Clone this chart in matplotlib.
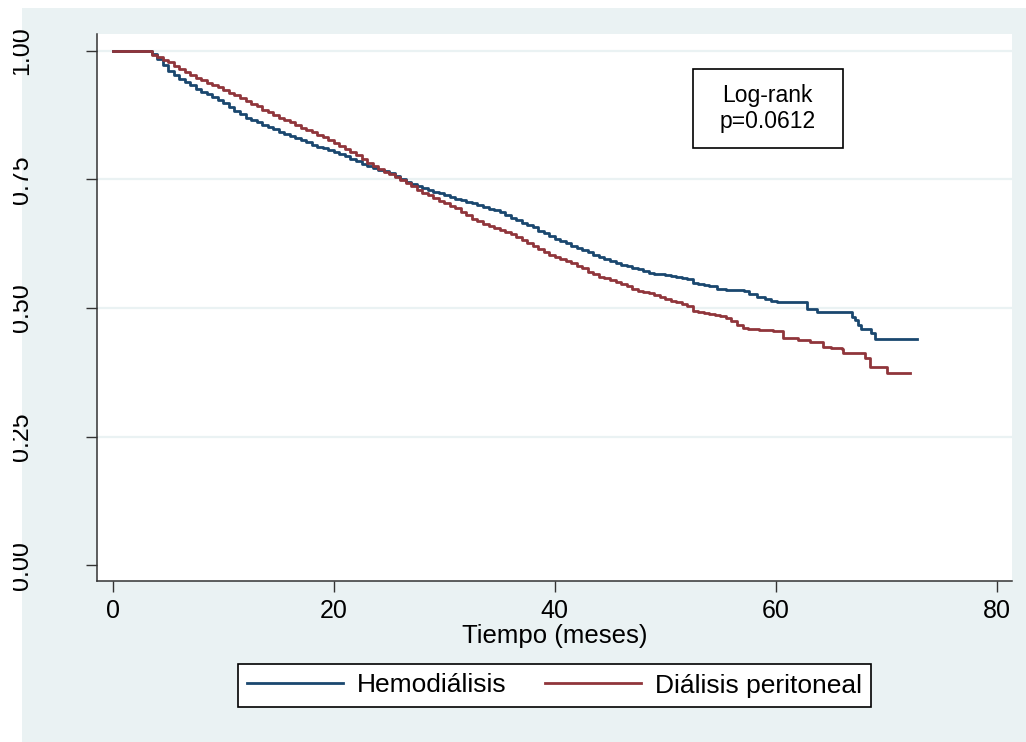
import matplotlib
matplotlib.use("Agg")
import matplotlib.pyplot as plt
from matplotlib.patches import Rectangle
from matplotlib.transforms import Bbox, TransformedBbox

# --- Datos ---
hd_time = [0,
           3.0, 3.5, 4.0, 4.5, 5.0, 5.5, 6.0, 6.5, 7.0, 7.5,
           8.0, 8.5, 9.0, 9.5, 10.0, 10.5, 11.0, 11.5, 12.0, 12.5,
           13.0, 13.5, 14.0, 14.5, 15.0, 15.5, 16.0, 16.5, 17.0, 17.5,
           18.0, 18.5, 19.0, 19.5, 20.0, 20.5, 21.0, 21.5, 22.0, 22.5,
           23.0, 23.5, 24.0, 24.5, 25.0, 25.5, 26.0, 26.5, 27.0, 27.5,
           28.0, 28.5, 29.0, 29.5, 30.0, 30.5, 31.0, 31.5, 32.0, 32.5,
           33.0, 33.5, 34.0, 34.5, 35.0, 35.5, 36.0, 36.5, 37.0, 37.5,
           38.0, 38.5, 39.0, 39.5, 40.0, 40.5, 41.0, 41.5, 42.0, 42.5,
           43.0, 43.5, 44.0, 44.5, 45.0, 45.5, 46.0, 46.5, 47.0, 47.5,
           48.0, 48.5, 49.0, 49.5, 50.0, 50.5, 51.0, 51.5, 52.0, 52.5,
           53.0, 53.5, 54.0,
           54.7, 55.5, 56.5, 57.1, 57.6, 58.3, 59.0, 59.6, 60.1, 62.8,
           63.7, 66.9, 67.2, 67.5, 67.7, 68.6, 69.0, 72.8]
hd_surv = [1.0,
           1.0, 0.995, 0.984, 0.972, 0.962, 0.953, 0.946, 0.939, 0.933, 0.926,
           0.920, 0.916, 0.911, 0.905, 0.898, 0.891, 0.884, 0.877, 0.870, 0.866,
           0.861, 0.856, 0.852, 0.848, 0.843, 0.839, 0.835, 0.831, 0.826, 0.822,
           0.818, 0.814, 0.811, 0.807, 0.803, 0.799, 0.795, 0.790, 0.785, 0.781,
           0.776, 0.773, 0.769, 0.766, 0.762, 0.756, 0.751, 0.746, 0.742, 0.737,
           0.733, 0.729, 0.725, 0.723, 0.719, 0.716, 0.713, 0.710, 0.707, 0.704,
           0.700, 0.697, 0.692, 0.690, 0.686, 0.681, 0.676, 0.671, 0.666, 0.662,
           0.657, 0.650, 0.645, 0.640, 0.635, 0.631, 0.626, 0.621, 0.616, 0.612,
           0.608, 0.603, 0.599, 0.595, 0.591, 0.587, 0.584, 0.581, 0.578, 0.575,
           0.572, 0.569, 0.567, 0.566, 0.564, 0.563, 0.561, 0.559, 0.556, 0.549,
           0.547, 0.545, 0.543,
           0.537, 0.536, 0.535, 0.534, 0.528, 0.522, 0.518, 0.514, 0.512, 0.499,
           0.493, 0.483, 0.477, 0.467, 0.460, 0.452, 0.440, 0.440]

dp_time = [0,
           3.0, 3.5, 4.0, 4.5, 5.0, 5.5, 6.0, 6.5, 7.0, 7.5,
           8.0, 8.5, 9.0, 9.5, 10.0, 10.5, 11.0, 11.5, 12.0, 12.5,
           13.0, 13.5, 14.0, 14.5, 15.0, 15.5, 16.0, 16.5, 17.0, 17.5,
           18.0, 18.5, 19.0, 19.5, 20.0, 20.5, 21.0, 21.5, 22.0, 22.5,
           23.0, 23.5, 24.0, 24.5, 25.0, 25.5, 26.0, 26.5, 27.0, 27.5,
           28.0, 28.5, 29.0, 29.5, 30.0, 30.5, 31.0, 31.5, 32.0, 32.5,
           33.0, 33.5, 34.0, 34.5, 35.0, 35.5, 36.0, 36.5, 37.0, 37.5,
           38.0, 38.5, 39.0, 39.5, 40.0, 40.5, 41.0, 41.5, 42.0, 42.5,
           43.0, 43.5, 44.0, 44.5, 45.0, 45.5, 46.0, 46.5, 47.0, 47.5,
           48.0, 48.5, 49.0, 49.5, 50.0, 50.5, 51.0, 51.5, 52.0, 52.5,
           53.0, 53.5, 54.0, 54.5, 55.0, 55.5, 56.0, 56.5, 57.0, 57.5,
           58.0, 58.5, 59.0,
           59.8, 60.7, 62.0, 63.1, 64.3, 65.0, 66.0, 66.1, 68.1, 68.5,
           70.1, 72.2]
dp_surv = [1.0,
           1.0, 0.993, 0.988, 0.983, 0.978, 0.971, 0.965, 0.959, 0.953, 0.948,
           0.943, 0.938, 0.933, 0.929, 0.924, 0.919, 0.914, 0.908, 0.903, 0.897,
           0.892, 0.886, 0.881, 0.875, 0.870, 0.866, 0.861, 0.856, 0.851, 0.847,
           0.842, 0.837, 0.832, 0.827, 0.821, 0.815, 0.810, 0.803, 0.797, 0.790,
           0.783, 0.776, 0.770, 0.765, 0.760, 0.755, 0.749, 0.743, 0.737, 0.730,
           0.724, 0.719, 0.714, 0.709, 0.704, 0.698, 0.694, 0.686, 0.680, 0.674,
           0.669, 0.664, 0.660, 0.656, 0.652, 0.647, 0.643, 0.638, 0.633, 0.627,
           0.621, 0.615, 0.609, 0.604, 0.600, 0.596, 0.591, 0.587, 0.582, 0.577,
           0.571, 0.566, 0.561, 0.558, 0.554, 0.550, 0.547, 0.542, 0.537, 0.534,
           0.532, 0.529, 0.526, 0.521, 0.517, 0.514, 0.511, 0.507, 0.503, 0.495,
           0.492, 0.490, 0.489, 0.487, 0.485, 0.480, 0.474, 0.467, 0.462, 0.460,
           0.459, 0.458, 0.457,
           0.456, 0.441, 0.438, 0.434, 0.425, 0.422, 0.420, 0.412, 0.402, 0.386,
           0.374, 0.374]

x_ticks = [0, 20, 40, 60, 80]
y_ticks = [0.0, 0.25, 0.5, 0.75, 1.0]
y_labels = ["0.00", "0.25", "0.50", "0.75", "1.00"]
labels = ["Hemodiálisis", "Diálisis peritoneal"]
test_text = "Log-rank\np=0.0612"

# --- Estilo ---
BG = "#EAF2F3"
NAVY = "#1A476F"
MAROON = "#90353B"
AXC = "#333333"
plt.rcParams['font.family'] = ['Liberation Sans', 'DejaVu Sans']

W, H = 1026, 742
fig = plt.figure(figsize=(W / 100, H / 100), dpi=100, facecolor="white")
fig.patches.append(Rectangle((22 / W, 0), 1 - 22 / W, (H - 8) / H, transform=fig.transFigure,
                             facecolor=BG, edgecolor="none", zorder=-5))

ax = fig.add_axes([97 / W, (H - 581) / H, (1012 - 97) / W, (581 - 34) / H])
ax.set_zorder(2)
ax.set_facecolor("white")

ax.plot(hd_time, hd_surv, drawstyle="steps-post", color=NAVY, lw=2.0, label=labels[0], zorder=3)
ax.plot(dp_time, dp_surv, drawstyle="steps-post", color=MAROON, lw=2.0, label=labels[1], zorder=4)

ax.set_xlim(-1.45, 81.4)
ax.set_ylim(-0.031, 1.033)
ax.set_xticks(x_ticks)
ax.set_yticks(y_ticks)
ax.set_yticklabels(y_labels, rotation=90, va="center", ha="right")

for s in ["top", "right"]:
    ax.spines[s].set_visible(False)
for s in ["left", "bottom"]:
    ax.spines[s].set_color(AXC)
    ax.spines[s].set_linewidth(1.1)

ax.tick_params(axis="both", direction="out", length=8, width=1.0, color=AXC, labelsize=18)
ax.tick_params(axis="x", pad=5)
ax.tick_params(axis="y", pad=38)

# líneas de rejilla (sin la de 0)
for yv in y_ticks[1:]:
    ax.axhline(yv, color=BG, lw=1.6, zorder=1)

ax.set_xlabel("Tiempo (meses)", fontsize=18.5, labelpad=1)

# etiquetas del eje y recortadas por el borde de la imagen
clip = TransformedBbox(Bbox([[13 / W, 0], [1, 1]]), fig.transFigure)
for t in ax.yaxis.get_major_ticks():
    t.label1.set_clip_on(True)
    t.label1.set_clip_box(clip)

# caja del log-rank
ax.add_patch(Rectangle((0.651, 0.792), 0.164, 0.144, transform=ax.transAxes,
                       facecolor="white", edgecolor="black", lw=1.2, zorder=5))
ax.text(0.733, 0.864, test_text, transform=ax.transAxes, ha="center", va="center",
        fontsize=16.5, linespacing=1.15, zorder=6)

leg = fig.legend(loc="center", bbox_to_anchor=(554.5 / W, (H - 685.5) / H), ncol=2,
                 fontsize=19, frameon=True, fancybox=False, handlelength=3.64,
                 handletextpad=0.53, columnspacing=1.44, borderpad=0.35)
leg.get_frame().set_edgecolor("black")
leg.get_frame().set_linewidth(1.2)
leg.get_frame().set_facecolor("white")
leg.get_frame().set_alpha(1)
leg.set_zorder(3)
for ln in leg.get_lines():
    ln.set_linewidth(2.0)

fig.savefig("out.png", dpi=100, facecolor=fig.get_facecolor())
